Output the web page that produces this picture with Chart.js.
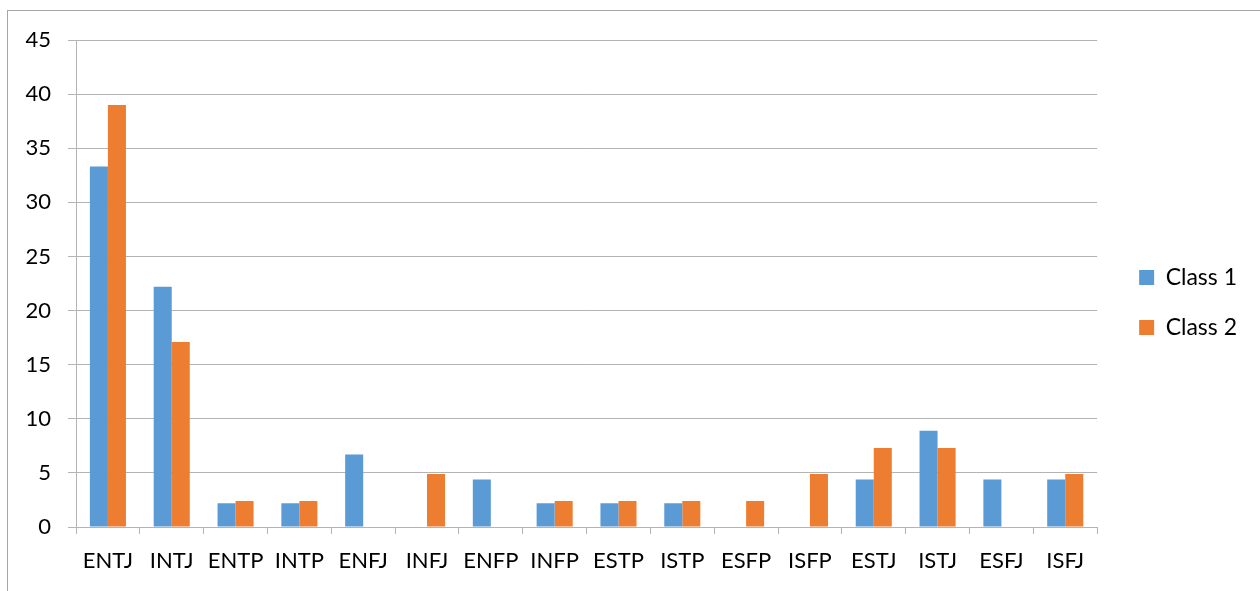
<!DOCTYPE html>
<html>
<head>
<meta charset="utf-8">
<script src="https://cdn.jsdelivr.net/npm/chart.js@4"></script>
<style>
  html, body { margin: 0; padding: 0; background: #fff; }
  #wrap { position: relative; width: 1260px; height: 591px; overflow: hidden; }
  #frame { position: absolute; left: 7px; top: 10px; width: 1300px; height: 700px;
           border-left: 1px solid #a6a6a6; border-top: 1px solid #a6a6a6; }
  canvas { position: absolute; left: 0; top: 0; }
</style>
</head>
<body>
<div id="wrap">
  <div id="frame"></div>
  <canvas id="typeChart" width="1260" height="591"></canvas>
</div>
<script>
const types = ["ENTJ", "INTJ", "ENTP", "INTP", "ENFJ", "INFJ", "ENFP", "INFP",
               "ESTP", "ISTP", "ESFP", "ISFP", "ESTJ", "ISTJ", "ESFJ", "ISFJ"];
const class1 = [33.3, 22.2, 2.2, 2.2, 6.7, 0, 4.4, 2.2, 2.2, 2.2, 0, 0, 4.4, 8.9, 4.4, 4.4];
const class2 = [39.0, 17.1, 2.4, 2.4, 0, 4.9, 0, 2.4, 2.4, 2.4, 2.4, 4.9, 7.3, 7.3, 0, 4.9];
const yTicks = [0, 5, 10, 15, 20, 25, 30, 35, 40, 45];

const gridColor = "#b4b4b4";
const family = "Lato, 'Open Sans', sans-serif";

// nudge the legend away from the plot, like the original
const legendGap = {
  id: "legendGap",
  afterLayout(chart) {
    const lg = chart.legend;
    if (!lg) return;
    lg.left += 15; lg.right += 15;
    lg.top -= 6; lg.bottom -= 6;
  }
};

const ctx = document.getElementById("typeChart").getContext("2d");

new Chart(ctx, {
  type: "bar",
  data: {
    labels: types,
    datasets: [
      { label: "Class 1", data: class1, backgroundColor: "#5b9bd5" },
      { label: "Class 2", data: class2, backgroundColor: "#ed7d31" }
    ]
  },
  plugins: [legendGap],
  options: {
    responsive: false,
    animation: false,
    datasets: { bar: { categoryPercentage: 0.565, barPercentage: 1.0 } },
    layout: { padding: { top: 40, right: 28, bottom: 14, left: 0 } },
    plugins: {
      tooltip: { enabled: false },
      legend: {
        position: "right",
        labels: {
          color: "#000",
          font: { family: family, size: 23 },
          boxWidth: 15,
          boxHeight: 15,
          padding: 27
        }
      }
    },
    scales: {
      x: {
        grid: { drawOnChartArea: false, drawTicks: true, tickLength: 7, color: gridColor, offset: true },
        border: { display: true, color: gridColor },
        ticks: { color: "#000", font: { family: family, size: 22 }, padding: 14, maxRotation: 0, autoSkip: false },
        afterFit: scale => { scale.height = 50; }
      },
      y: {
        min: 0,
        max: 45,
        afterBuildTicks: scale => { scale.ticks = yTicks.map(v => ({ value: v })); },
        grid: { color: gridColor, tickLength: 8 },
        border: { display: true, color: gridColor },
        ticks: { color: "#000", font: { family: family, size: 22 }, padding: 17 },
        afterFit: scale => { scale.width = 76; }
      }
    }
  }
});
</script>
</body>
</html>
